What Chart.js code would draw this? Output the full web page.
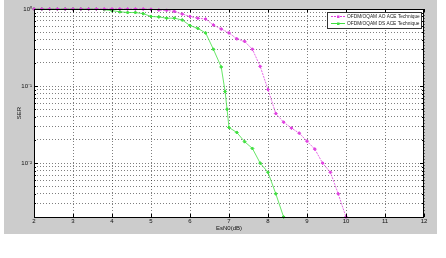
<!DOCTYPE html>
<html>
<head>
<meta charset="utf-8">
<script src="https://cdn.jsdelivr.net/npm/chart.js@4.4.1/dist/chart.umd.min.js"></script>
<style>
  html, body { margin: 0; padding: 0; background: #fff; }
  #myChart { display: block; }
</style>
</head>
<body>
<canvas id="myChart" width="446" height="258" style="width:446px;height:258px"></canvas>
<script>
// SER curves
const snrAO = [2.0, 2.2, 2.4, 2.6, 2.8, 3.0, 3.2, 3.4, 3.6, 3.8, 4.0, 4.2, 4.4, 4.6, 4.8,
  5.0, 5.2, 5.4, 5.6, 5.8, 6.0, 6.2, 6.4, 6.6, 6.8, 7.0, 7.2, 7.4, 7.6, 7.8,
  8.0, 8.2, 8.4, 8.6, 8.8, 9.0, 9.2, 9.4, 9.6, 9.8, 10.0];
const serAO = [1, 1, 1, 1, 1, 1, 1, 1, 1, 1, 1, 1, 1, 1, 1,
  0.99, 0.97, 0.96, 0.93, 0.86, 0.80, 0.76, 0.74, 0.62, 0.55, 0.49, 0.41, 0.38, 0.30, 0.18,
  0.09, 0.044, 0.034, 0.0285, 0.0245, 0.0193, 0.0152, 0.010, 0.0076, 0.0040, 0.002];

const snrDS = [2.0, 2.2, 2.4, 2.6, 2.8, 3.0, 3.2, 3.4, 3.6, 3.8, 4.0, 4.2, 4.4, 4.6, 4.8,
  5.0, 5.2, 5.4, 5.6, 5.8, 6.0, 6.2, 6.4, 6.6, 6.8, 6.9, 6.95, 7.0, 7.2, 7.4, 7.6, 7.8,
  8.0, 8.2, 8.4];
const serDS = [1, 1, 1, 1, 1, 1, 1, 1, 1, 0.98, 0.95, 0.92, 0.90, 0.90, 0.87,
  0.80, 0.79, 0.76, 0.76, 0.72, 0.61, 0.56, 0.49, 0.30, 0.177, 0.085, 0.05, 0.029, 0.025, 0.019, 0.0155, 0.010,
  0.0076, 0.0040, 0.002];

const seriesNames = ['OFDM/OQAM AO ACE Technique', 'OFDM/OQAM DS ACE Technique'];
const xTicks = [2, 3, 4, 5, 6, 7, 8, 9, 10, 11, 12];
const yMajorTicks = [0.01, 0.1, 1];
const yTickLabels = ['10\u207B\u00B2', '10\u207B\u00B9', '10\u2070'];
const yMin = 0.002;
const yMax = 1;

const FONT = 'Liberation Sans, Arial, sans-serif';
const ctx = document.getElementById('myChart').getContext('2d');

function toPoints(xs, ys) {
  return xs.map((x, i) => ({ x: x, y: ys[i] }));
}

// grey figure, white axes box
const backgroundPlugin = {
  id: 'figureBack',
  beforeDraw(chart) {
    const c = chart.ctx;
    const a = chart.chartArea;
    c.save();
    c.fillStyle = '#cccccc';
    c.fillRect(4, 0, 433, 234);
    c.fillStyle = '#ffffff';
    c.fillRect(a.left, a.top, a.right - a.left, a.bottom - a.top);
    c.restore();
  },
};

// frame, inner ticks and legend, matlab style
const framePlugin = {
  id: 'frameLegend',
  afterDraw(chart) {
    const c = chart.ctx;
    const a = chart.chartArea;
    const xs = chart.scales.x;
    const ys = chart.scales.y;
    c.save();
    c.strokeStyle = '#000';
    c.lineWidth = 1;
    c.strokeRect(a.left + 0.5, a.top + 0.5, a.right - a.left - 1, a.bottom - a.top);

    c.beginPath();
    xTicks.forEach((v) => {
      const px = Math.round(xs.getPixelForValue(v)) + 0.5;
      c.moveTo(px, a.bottom); c.lineTo(px, a.bottom - 3);
      c.moveTo(px, a.top); c.lineTo(px, a.top + 3);
    });
    ys.ticks.forEach((t) => {
      const py = Math.round(ys.getPixelForValue(t.value)) + 0.5;
      const len = yMajorTicks.includes(t.value) ? 4 : 2;
      c.moveTo(a.left, py); c.lineTo(a.left + len, py);
      c.moveTo(a.right, py); c.lineTo(a.right - len, py);
    });
    c.stroke();

    // legend box
    const bx = 327; const by = 12; const bw = 94; const bh = 16;
    c.fillStyle = '#fff';
    c.fillRect(bx, by, bw, bh);
    c.strokeStyle = '#333';
    c.strokeRect(bx + 0.5, by + 0.5, bw, bh);
    c.font = '4.8px ' + FONT;
    c.textBaseline = 'middle';
    chart.data.datasets.forEach((ds, i) => {
      const ry = by + 4.5 + i * 7;
      c.strokeStyle = ds.borderColor;
      c.setLineDash(ds.borderDash || []);
      c.beginPath();
      c.moveTo(331, ry); c.lineTo(345, ry);
      c.stroke();
      c.setLineDash([]);
      c.fillStyle = ds.borderColor;
      c.fillRect(337, ry - 1, 2.5, 2.5);
      c.fillStyle = '#222';
      c.fillText(ds.label, 347, ry);
    });
    c.restore();
  },
};

const myChart = new Chart(ctx, {
  type: 'line',
  data: {
    datasets: [
      {
        label: seriesNames[0],
        data: toPoints(snrAO, serAO),
        borderColor: '#e040e0',
        backgroundColor: '#e040e0',
        borderWidth: 0.8,
        borderDash: [2, 1],
        pointStyle: 'rectRot',
        pointRadius: 1.5,
        pointBorderWidth: 1,
        tension: 0,
        clip: 6,
      },
      {
        label: seriesNames[1],
        data: toPoints(snrDS, serDS),
        borderColor: '#40e040',
        backgroundColor: '#40e040',
        borderWidth: 0.8,
        pointStyle: 'rectRot',
        pointRadius: 1.5,
        pointBorderWidth: 1,
        tension: 0,
        clip: 6,
      },
    ],
  },
  options: {
    responsive: false,
    animation: false,
    layout: { padding: { left: 0, top: 9, right: 22, bottom: 0 } },
    plugins: {
      legend: { display: false },
      tooltip: { enabled: false },
    },
    scales: {
      x: {
        type: 'linear',
        min: 2,
        max: 12,
        afterFit(scale) { scale.height = 41; },
        afterBuildTicks(scale) { scale.ticks = xTicks.map((v) => ({ value: v })); },
        ticks: {
          color: '#111',
          font: { family: FONT, size: 6 },
          padding: 1,
          maxRotation: 0,
          autoSkip: false,
        },
        grid: { color: 'rgba(0,0,0,0.5)', drawTicks: false, lineWidth: 1 },
        border: { display: false, dash: [1, 2] },
        title: {
          display: true,
          text: 'EsN0(dB)',
          color: '#111',
          font: { family: FONT, size: 6 },
          padding: { top: 0, bottom: 26 },
        },
      },
      y: {
        type: 'logarithmic',
        min: yMin,
        max: yMax,
        afterFit(scale) { scale.width = 34; },
        afterBuildTicks(scale) {
          const list = [];
          for (let e = -3; e <= 0; e++) {
            for (let m = 1; m <= 9; m++) {
              const v = parseFloat((m * Math.pow(10, e)).toPrecision(3));
              if (v >= yMin && v <= yMax) list.push({ value: v });
            }
          }
          scale.ticks = list;
        },
        ticks: {
          color: '#111',
          font: { family: FONT, size: 6 },
          padding: 2,
          autoSkip: false,
          callback(value) {
            const i = yMajorTicks.indexOf(value);
            return i >= 0 ? yTickLabels[i] : '';
          },
        },
        grid: { color: 'rgba(0,0,0,0.5)', drawTicks: false, lineWidth: 1 },
        border: { display: false, dash: [1, 2] },
        title: {
          display: true,
          text: 'SER',
          color: '#111',
          font: { family: FONT, size: 6 },
          padding: { top: 16, bottom: 0 },
        },
      },
    },
  },
  plugins: [backgroundPlugin, framePlugin],
});
</script>
</body>
</html>
